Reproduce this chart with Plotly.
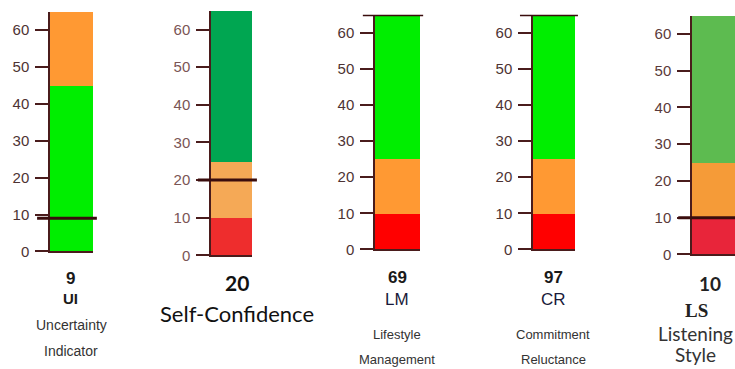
import plotly.graph_objects as go

W, H = 735, 369

codes = ["UI", "SC", "LM", "CR", "LS"]
scores = [9, 20, 69, 97, 10]
y_max = 65
tick_values = [0, 10, 20, 30, 40, 50, 60]

# band boundaries (lower, upper) per panel and their colours
band_edges = [
    [0, 45, 65],
    [0, 10, 25, 65],
    [0, 10, 25, 65],
    [0, 10, 25, 65],
    [0, 10, 25, 65],
]
band_colors = [
    ["#00EE00", "#FF9933"],
    ["#EE2D2D", "#F5A956", "#00A651"],
    ["#FF0000", "#FF9933", "#00EE00"],
    ["#FF0000", "#FF9933", "#00EE00"],
    ["#E8253A", "#F59B38", "#5DBB50"],
]

# panel geometry in pixels: axis x, bar right x, top y (=65), zero y
panels = [
    (50, 93, 12, 257),
    (211, 252, 11, 261),
    (375, 420, 15, 255),
    (533, 575, 15, 255),
    (692, 735, 16, 260),
]
marker_ext = [(-0.30, 1.09), (-0.32, 1.12), (-0.27, 1.07), (-0.31, 1.07), (-0.32, 1.2)]
tick_colors = ["#4d3333", "#7a5555", "#4d3333", "#4d3333", "#5a3a3a"]

AX = "#4a1c1c"
fig = go.Figure()
layout = dict(
    width=W, height=H, margin=dict(l=0, r=0, t=0, b=0),
    paper_bgcolor="white", plot_bgcolor="white",
    showlegend=False, bargap=0, barmode="overlay",
)
shapes = []
for i, (code, score, edges, cols, geo) in enumerate(zip(codes, scores, band_edges, band_colors, panels)):
    n = i + 1
    xa = "x" if n == 1 else f"x{n}"
    ya = "y" if n == 1 else f"y{n}"
    for lo, hi, c in zip(edges[:-1], edges[1:], cols):
        fig.add_trace(go.Bar(
            x=[code], y=[hi - lo], base=[lo], width=1,
            marker=dict(color=c, line=dict(width=0)),
            xaxis=xa, yaxis=ya, hoverinfo="skip",
        ))
    x0, x1, ytop, yzero = geo
    layout[f"xaxis{n if n > 1 else ''}"] = dict(
        domain=[x0 / W, min(x1 / W, 1.0)], anchor=ya, range=[-0.5, 0.5],
        showline=True, linecolor=AX, linewidth=1.5, ticks="", showticklabels=False,
        showgrid=False, zeroline=False, fixedrange=True,
    )
    layout[f"yaxis{n if n > 1 else ''}"] = dict(
        domain=[1 - yzero / H, 1 - ytop / H], anchor=xa, range=[0, y_max],
        tickvals=tick_values, ticks="outside", ticklen=13, tickwidth=1.5, tickcolor=AX,
        showline=True, linecolor=AX, linewidth=1.5, showgrid=False, zeroline=False,
        tickfont=dict(family="Liberation Sans, Arial", size=15, color=tick_colors[i]),
        ticklabelstandoff=3,
    )
    mv = min(score, y_max)
    shapes.append(dict(
        type="line", xref=f"{xa} domain", yref=ya,
        x0=marker_ext[i][0], x1=marker_ext[i][1], y0=mv, y1=mv,
        line=dict(color="#3a0d0d", width=3), layer="above",
    ))

layout["shapes"] = shapes

ARIAL = "Liberation Sans, Arial"
CAL = "Lato, Open Sans"
ann = []
OFF = 7
def T(x, y, text, size, family=ARIAL, color="#1a1a1a", bold=False):
    ann.append(dict(
        xref="paper", yref="paper", x=x / W, y=1 - (y + OFF) / H, xanchor="center", yanchor="middle",
        text=f"<b>{text}</b>" if bold else text, showarrow=False,
        font=dict(family=family, size=size, color=color),
    ))

T(70, 278, str(scores[0]), 17, bold=True)
T(70, 298, codes[0], 15, bold=True)
T(71, 325, "Uncertainty", 14, color="#333")
T(71, 352, "Indicator", 14, color="#333")

T(237, 282, str(scores[1]), 21, family=CAL, color="#111", bold=True)
T(237, 313, "Self-Confidence", 22, family=CAL, color="#111")

T(397, 277, str(scores[2]), 17, bold=True)
T(397, 299, codes[2], 17, color="#1a1a3a")
T(397, 335, "Lifestyle", 13, color="#333")
T(397, 360, "Management", 13, color="#333")

T(553, 277, str(scores[3]), 17, bold=True)
T(553, 299, codes[3], 17, color="#1a1a3a")
T(553, 335, "Commitment", 13, color="#333")
T(553, 360, "Reluctance", 13, color="#333")

T(710, 283, str(scores[4]), 19, family=CAL, color="#222", bold=True)
T(696, 310, codes[4], 19, family="Liberation Serif, Times New Roman", color="#222", bold=True)
T(695, 334, "Listening", 19, family=CAL, color="#333")
T(695, 355, "Style", 19, family=CAL, color="#333")

layout["annotations"] = ann
fig.update_layout(**layout)
fig.write_html("out.html")
